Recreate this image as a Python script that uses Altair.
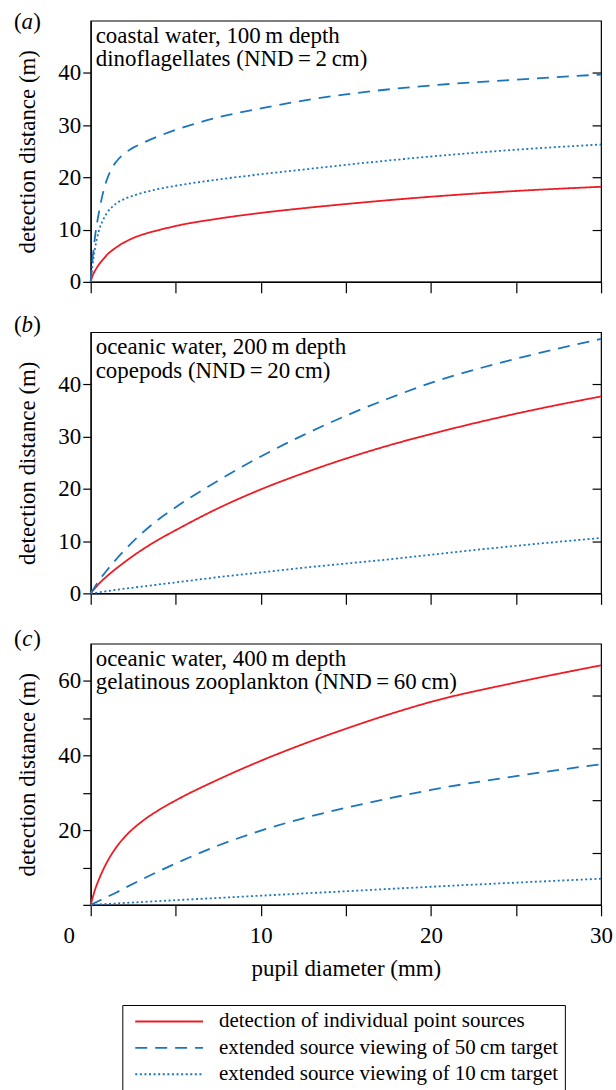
import altair as alt
import pandas as pd

FONT = "'Liberation Serif', 'Times New Roman', Times, Tinos, 'DejaVu Serif', serif"

SERIES = ["detection of individual point sources",
          "extended source viewing of 50\u2009cm target",
          "extended source viewing of 10\u2009cm target"]
COLORS = ["#ed1c24", "#1c75bc", "#1c75bc"]
DASHES = [[1, 0], [12, 8], [2, 2.6]]

# panel (a): coastal water, 100 m depth, dinoflagellates
a_x = [0, 0.1, 0.25, 0.5, 0.75, 1, 1.25, 1.5, 2, 2.5, 3, 4, 5, 7.5, 10, 12.5, 15, 20, 25, 30]
a_point = [0, 1.1, 2.1, 3.4, 4.4, 5.3, 6.0, 6.6, 7.6, 8.4, 9.0, 9.9, 10.7, 12.1, 13.2, 14.1, 14.9, 16.3, 17.4, 18.2]
a_ext50 = [0, 4.0, 8.5, 13.6, 17.4, 20.0, 21.8, 23.0, 24.6, 25.7, 26.5, 27.9, 29.1, 31.5, 33.2, 34.7, 35.9, 37.6, 38.7, 39.7]
a_ext10 = [0, 3.0, 6.3, 10.0, 12.0, 13.4, 14.3, 15.0, 15.9, 16.5, 17.0, 17.8, 18.4, 19.6, 20.6, 21.5, 22.4, 24.0, 25.3, 26.3]

# panel (b): oceanic water, 200 m depth, copepods
b_x = [0, 0.5, 1, 2, 3, 4, 5, 7.5, 10, 12.5, 15, 17.5, 20, 25, 30]
b_point = [0, 1.9, 3.4, 6.0, 8.3, 10.3, 12.1, 16.3, 19.9, 23.0, 25.8, 28.3, 30.5, 34.4, 37.7]
b_ext50 = [0, 2.5, 4.6, 8.3, 11.5, 14.2, 16.5, 21.6, 26.2, 30.3, 34.0, 37.3, 40.3, 44.9, 48.7]
b_ext10 = [0, 0.2, 0.45, 0.9, 1.3, 1.7, 2.1, 3.1, 4.0, 4.9, 5.7, 6.5, 7.4, 9.1, 10.6]

# panel (c): oceanic water, 400 m depth, gelatinous zooplankton
c_x = [0, 0.25, 0.5, 1, 1.5, 2, 3, 4, 5, 7.5, 10, 12.5, 15, 17.5, 20, 25, 30]
c_point = [0, 4.0, 7.0, 11.8, 15.4, 18.2, 22.3, 25.4, 28.0, 33.6, 38.6, 43.1, 47.2, 51.0, 54.4, 59.6, 64.2]
c_ext50 = [0, 0.55, 1.1, 2.2, 3.3, 4.5, 6.8, 9.0, 11.1, 15.9, 19.9, 23.2, 26.0, 28.5, 30.8, 34.5, 37.7]
c_ext10 = [0, 0.06, 0.12, 0.25, 0.37, 0.5, 0.75, 1.0, 1.25, 1.85, 2.45, 3.05, 3.65, 4.25, 4.85, 5.95, 7.0]

NOTES = {
    "a": ["coastal water, 100\u2009m depth", "dinoflagellates (NND\u2009=\u20092\u2009cm)"],
    "b": ["oceanic water, 200\u2009m depth", "copepods (NND\u2009=\u200920\u2009cm)"],
    "c": ["oceanic water, 400\u2009m depth", "gelatinous zooplankton (NND\u2009=\u200960\u2009cm)"],
}
X_TICKS = [0, 5, 10, 15, 20, 25, 30]


def make_df(xs, ys_list):
    rows = []
    for name, ys in zip(SERIES, ys_list):
        for x, y in zip(xs, ys):
            rows.append({"x": x, "y": y, "series": name})
    return pd.DataFrame(rows)


LEGEND = alt.Legend(
    orient="none", legendX=31.7, legendY=987.5, title=None,
    symbolType="stroke", symbolSize=4624, symbolStrokeWidth=2,
    clipHeight=21, rowPadding=4.5, padding=6, strokeColor="black",
    labelFont=FONT, labelFontSize=21, labelColor="black",
    labelOffset=15, symbolOffset=6, labelLimit=0,
)

one = pd.DataFrame({"k": [0]})


def panel(df, key, ydomain, left_vals, left_expr, right_vals, x_labels, tag_dy):
    xscale = alt.Scale(domain=[0, 30], nice=False, zero=False)
    yscale = alt.Scale(domain=ydomain, nice=False, zero=False)
    if x_labels:
        xaxis = alt.Axis(values=X_TICKS, tickSize=11, labelPadding=9,
                         labelFlush=False, labelOverlap=False,
                         labelExpr="datum.value % 10 === 0 ? datum.label : ''",
                         labelOffset={"condition": {"test": "datum.value === 0", "value": -22}, "value": 0},
                         title="pupil diameter (mm)", titlePadding=10)
    else:
        xaxis = alt.Axis(values=X_TICKS, tickSize=11, labels=False, title=None)
    left_axis = alt.Axis(values=left_vals, labelExpr=left_expr, tickSize=8, labelPadding=2,
                         labelFlush=False, labelOverlap=False,
                         title="detection distance (m)", titlePadding=18)
    right_axis = alt.Axis(orient="right", values=right_vals, labels=False, domain=False,
                          tickSize=9, offset=-9, title=None)

    lines = alt.Chart(df).mark_line(strokeWidth=1.8, interpolate="monotone").encode(
        x=alt.X("x:Q", scale=xscale, axis=xaxis),
        y=alt.Y("y:Q", scale=yscale, axis=left_axis),
        color=alt.Color("series:N", scale=alt.Scale(domain=SERIES, range=COLORS), legend=LEGEND),
        strokeDash=alt.StrokeDash("series:N", scale=alt.Scale(domain=SERIES, range=DASHES), legend=LEGEND),
    )
    right = alt.Chart(df).mark_line(opacity=0).encode(
        x=alt.X("x:Q", scale=xscale, axis=xaxis),
        y=alt.Y("y:Q", scale=yscale, axis=right_axis),
    )
    note = alt.Chart(one).mark_text(align="left", baseline="alphabetic", font=FONT,
                                    fontSize=23, lineHeight=23.5, color="black").encode(
        x=alt.value(5), y=alt.value(22), text=alt.value(NOTES[key]))
    tag_open = alt.Chart(one).mark_text(align="left", baseline="alphabetic", font=FONT,
                                        fontSize=23, color="black").encode(
        x=alt.value(-77), y=alt.value(tag_dy), text=alt.value("("))
    tag_letter = alt.Chart(one).mark_text(align="center", baseline="alphabetic", font=FONT,
                                          fontSize=23, fontStyle="italic", color="black").encode(
        x=alt.value(-63.6), y=alt.value(tag_dy), text=alt.value(key))
    tag_close = alt.Chart(one).mark_text(align="right", baseline="alphabetic", font=FONT,
                                         fontSize=23, color="black").encode(
        x=alt.value(-50), y=alt.value(tag_dy), text=alt.value(")"))
    return alt.layer(lines, right, note, tag_open, tag_letter, tag_close).resolve_axis(
        y="independent").properties(width=512, height=262)


pa = panel(make_df(a_x, [a_point, a_ext50, a_ext10]), "a", [0, 50], [0, 10, 20, 30, 40],
           "datum.label", [10, 20, 30, 40], False, 8)
pb = panel(make_df(b_x, [b_point, b_ext50, b_ext10]), "b", [0, 50], [0, 10, 20, 30, 40],
           "datum.label", [10, 20, 30, 40], False, 0)
pc = panel(make_df(c_x, [c_point, c_ext50, c_ext10]), "c", [0, 70], [0, 10, 20, 30, 40, 50, 60],
           "datum.value > 0 && datum.value % 20 === 0 ? datum.label : ''", [14, 28, 42, 56], True, 2.5)

chart = alt.vconcat(pa, pb, pc, spacing=50.5, bounds="flush").properties(
    padding={"left": 13, "top": 8, "right": 2, "bottom": 0}
).configure_view(
    stroke="black", strokeWidth=1.2
).configure_axis(
    labelFont=FONT, titleFont=FONT, labelFontSize=23, titleFontSize=23,
    labelColor="black", titleColor="black", tickColor="black", domainColor="black",
    tickWidth=1.2, domainWidth=1.2, titleFontWeight="normal", grid=False,
)

chart.save("out.html", embed_options={"renderer": "svg", "actions": False})
